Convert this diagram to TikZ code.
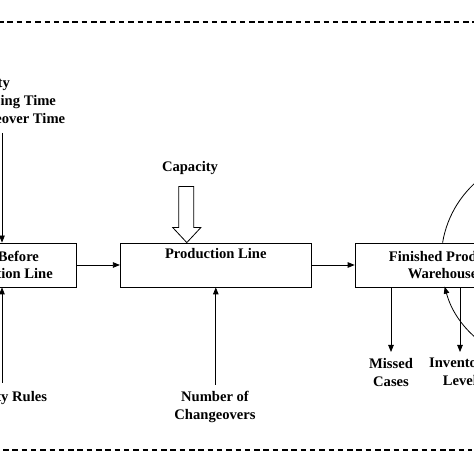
\documentclass[tikz,border=0pt]{standalone}
\usepackage{fontspec}
\setmainfont{Liberation Serif}
\usetikzlibrary{arrows.meta, positioning}

\begin{document}
\begin{tikzpicture}[x=1pt, y=1pt, node distance=43pt and 43pt, auto,
	box/.style={rectangle, draw, minimum height=44pt, align=center, inner sep=2pt},
	lbl/.style={align=center, inner sep=1pt},
	frame/.style={-, dash pattern=on 5.5pt off 3.8pt, line width=1.1pt},
	font=\fontsize{14.6}{17.8}\selectfont\bfseries, line width=0.8pt,
	->, >={Triangle[length=7pt, width=5.5pt]}]

\useasboundingbox (0,0) rectangle (474,474);
\clip (0,0) rectangle (474,474);

% Frame
\draw[frame] (-2,452) -- (480,452);
\draw[frame] (3,24) -- (472,24);

% Nodes
\node[box, minimum width=149pt] (wip) at (2,209) {WIP Before\\Production Line};
\node[box, minimum width=191pt, right=of wip] (line) {Production Line\\\strut};
\node[box, minimum width=175pt, right=of line] (fpw) {Finished Product\\Warehouse};

\node[lbl, align=left, anchor=west] (inputs) at (-47.5,372) {Capacity\\Processing Time\\Changeover Time};
\node[lbl] (prio) at (3,76) {Priority Rules};
\node[lbl] (cap) at (190,306) {Capacity};
\node[lbl] (chg) at (215,67) {Number of\\Changeovers};
\node[lbl, anchor=north] (missed) at (391,117) {Missed\\Cases};
\node[lbl, anchor=north] (invlvl) at (460,117) {Inventory\\Level};

% Capacity block arrow
\coordinate (captip) at ([xshift=-29pt]line.north);
\draw[-] (captip) -- ++(14,15) -- ++(-7,0) -- ++(0,41) -- ++(-15,0) -- ++(0,-41) -- ++(-6,0) -- cycle;

% Transitions
\draw (wip) -- (line);
\draw (line) -- (fpw);
\draw[shorten <=5pt] (inputs.south -| wip.north) -- (wip.north);
\draw[shorten <=7pt] (prio.north -| wip.south) -- (wip.south);
\draw[shorten <=5pt] (chg.north -| line.south) -- (line.south);
\draw[shorten >=5pt] (missed.north |- fpw.south) -- (missed.north);
\draw[shorten >=5pt] (invlvl.north |- fpw.south) -- (invlvl.north);
\draw (fpw.north) arc[start angle=170.5, end angle=-165, radius=104];
\end{tikzpicture}
\end{document}
